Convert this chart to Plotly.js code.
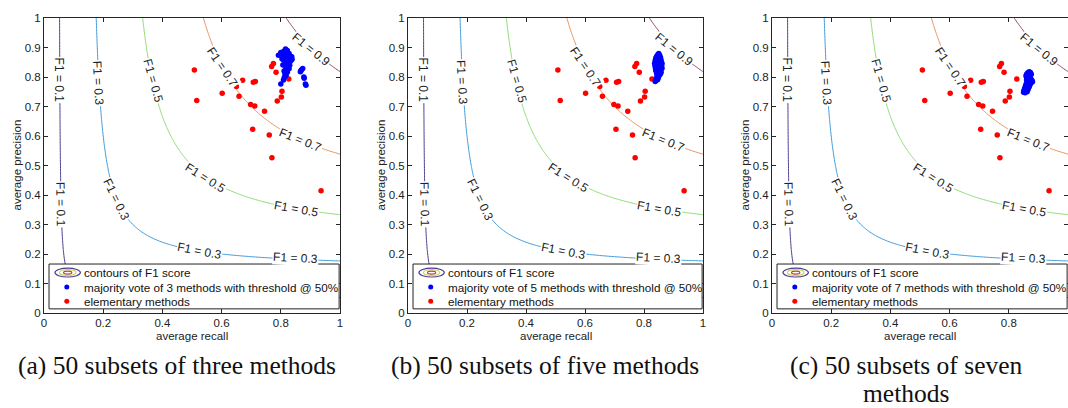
<!DOCTYPE html>
<html>
<head>
<meta charset="utf-8">
<script src="https://cdn.plot.ly/plotly-3.0.1.min.js"></script>
<style>html,body{margin:0;padding:0;background:#fff;}#chart{width:1068px;height:408px;}</style>
</head>
<body>
<div id="chart"></div>
<script>
// ---------------- data ----------------
// elementary methods (same in the three panels): average recall / average precision
const elemRecall    = [0.508,0.516,0.602,0.650,0.659,0.671,0.707,0.714,0.698,0.712,0.745,0.705,0.761,0.770,0.769,0.775,0.784,0.827,0.804,0.802,0.788,0.936];
const elemPrecision = [0.824,0.720,0.745,0.768,0.735,0.789,0.782,0.785,0.707,0.702,0.684,0.623,0.603,0.526,0.836,0.846,0.816,0.793,0.752,0.732,0.719,0.414];

// (a) majority vote of 3 methods
const vote3Recall = [0.816,0.822,0.810,0.800,0.806,0.792,0.828,0.818,0.837,0.825,0.812,0.820,0.809,0.831,0.824,0.815,0.838,0.807,0.826,0.818,0.820,0.828,0.814,0.822,0.812,0.818,0.809,0.800,0.874,0.870,0.868,0.866,0.878,0.879,0.883,0.885,0.833,0.829,0.813,0.826,0.804,0.817,0.821,0.811,0.836,0.819,0.815,0.823,0.830,0.816];
const vote3Precision = [0.895,0.890,0.887,0.883,0.879,0.874,0.880,0.876,0.869,0.868,0.866,0.862,0.858,0.852,0.856,0.848,0.860,0.841,0.835,0.838,0.824,0.828,0.812,0.816,0.799,0.805,0.790,0.776,0.829,0.825,0.821,0.818,0.800,0.796,0.776,0.772,0.870,0.848,0.872,0.860,0.862,0.830,0.844,0.820,0.858,0.870,0.882,0.874,0.840,0.858];

// (b) majority vote of 5 methods
const vote5Recall = [0.850,0.847,0.853,0.843,0.850,0.856,0.840,0.846,0.853,0.858,0.838,0.844,0.850,0.856,0.861,0.836,0.842,0.848,0.854,0.860,0.837,0.843,0.849,0.855,0.861,0.839,0.845,0.851,0.857,0.840,0.846,0.852,0.858,0.843,0.849,0.855,0.845,0.851,0.844,0.848,0.842,0.846,0.840,0.838,0.852,0.847,0.852,0.848,0.853,0.847];
const vote5Precision = [0.880,0.876,0.874,0.870,0.869,0.866,0.864,0.862,0.860,0.857,0.856,0.854,0.852,0.850,0.847,0.847,0.845,0.843,0.841,0.839,0.838,0.836,0.834,0.832,0.830,0.829,0.827,0.825,0.823,0.821,0.819,0.817,0.815,0.813,0.811,0.809,0.806,0.804,0.800,0.797,0.794,0.791,0.788,0.785,0.871,0.849,0.836,0.822,0.812,0.808];

// (c) majority vote of 7 methods
const vote7Recall = [0.869,0.873,0.864,0.870,0.876,0.860,0.866,0.872,0.858,0.864,0.870,0.861,0.867,0.873,0.878,0.860,0.865,0.871,0.880,0.876,0.862,0.868,0.874,0.859,0.865,0.871,0.857,0.863,0.869,0.855,0.861,0.866,0.853,0.859,0.864,0.851,0.857,0.862,0.850,0.855,0.866,0.862,0.874,0.868,0.872,0.866,0.860,0.858,0.853,0.877];
const vote7Precision = [0.818,0.815,0.814,0.811,0.809,0.809,0.806,0.804,0.803,0.800,0.798,0.796,0.793,0.791,0.789,0.790,0.787,0.785,0.784,0.782,0.782,0.780,0.778,0.777,0.775,0.773,0.771,0.769,0.767,0.765,0.763,0.761,0.759,0.757,0.756,0.753,0.752,0.750,0.748,0.747,0.812,0.795,0.795,0.788,0.780,0.770,0.766,0.760,0.750,0.786];

// F1 contour levels and their colours
const f1Levels = [0.1, 0.3, 0.5, 0.7, 0.9];
const f1Colors = ['#4a3d8f', '#3f9bd9', '#8fdc72', '#e8925a', '#8e4862'];

// tick labels
const xTicks = [0, 0.2, 0.4, 0.6, 0.8, 1];
const yTicks = [0, 0.1, 0.2, 0.3, 0.4, 0.5, 0.6, 0.7, 0.8, 0.9, 1];

const captionLine1 = ['(a) 50 subsets of three methods', '(b) 50 subsets of five methods', '(c) 50 subsets of seven'];
const captionLine2 = ['', '', 'methods'];
const voteLabels = ['majority vote of 3 methods with threshold @ 50%', 'majority vote of 5 methods with threshold @ 50%', 'majority vote of 7 methods with threshold @ 50%'];
const contourLegendLabel = 'contours of F1 score';
const elemLegendLabel = 'elementary methods';
const xTitle = 'average recall';
const yTitle = 'average precision';

// contour label placement (text, recall, precision, angle)
const clabelText = ['F1 = 0.1','F1 = 0.1','F1 = 0.3','F1 = 0.3','F1 = 0.3','F1 = 0.3','F1 = 0.5','F1 = 0.5','F1 = 0.5','F1 = 0.7','F1 = 0.7','F1 = 0.9'];
const clabelX     = [0.052, 0.057, 0.183, 0.246, 0.526, 0.848, 0.368, 0.545, 0.853, 0.602, 0.865, 0.905];
const clabelY     = [0.790, 0.367, 0.780, 0.384, 0.210, 0.186, 0.785, 0.458, 0.354, 0.834, 0.586, 0.893];
const clabelAng   = [90, 89, 87, 64, 11, 3, 74, 32, 10, 56, 22, 39];

// ---------------- build ----------------
const W = 1068, H = 408;
const panelX = [[44, 340], [408, 703], [772, 1068]];
const panelY = [18, 313];
const FONT = 'Liberation Sans, Arial, sans-serif';
const SERIF = 'Liberation Serif, Times New Roman, serif';

// F1 surface grid for the library's contour trace
const grid = [];
for (let i = 0; i <= 200; i++) grid.push(i / 200);
const zF1 = grid.map(p => grid.map(r => (r + p) > 0 ? 2 * r * p / (r + p) : 0));

const voteR = [vote3Recall, vote5Recall, vote7Recall];
const voteP = [vote3Precision, vote5Precision, vote7Precision];

const traces = [];
const layout = {
  width: W, height: H,
  margin: {l: 0, r: 0, t: 0, b: 0},
  paper_bgcolor: '#fff', plot_bgcolor: '#fff',
  showlegend: false,
  font: {family: FONT, color: '#222'},
  shapes: [], annotations: []
};

const cscale = f1Levels.map((v, i) => [(v - f1Levels[0]) / (f1Levels[f1Levels.length - 1] - f1Levels[0]), f1Colors[i]]);

for (let k = 0; k < 3; k++) {
  const sfx = k === 0 ? '' : String(k + 1);
  const xa = 'x' + sfx, ya = 'y' + sfx;
  const axCommon = {
    range: [0, 1], showgrid: false, zeroline: false,
    showline: true, linecolor: '#262626', linewidth: 1, mirror: 'ticks',
    ticks: 'inside', ticklen: 4, tickwidth: 1, tickcolor: '#262626',
    tickfont: {size: 11.5, family: FONT, color: '#222'}, fixedrange: true
  };
  layout['xaxis' + sfx] = Object.assign({}, axCommon, {
    domain: [panelX[k][0] / W, panelX[k][1] / W], anchor: ya, tickvals: xTicks, ticklabelstandoff: -1
  });
  layout['yaxis' + sfx] = Object.assign({}, axCommon, {
    domain: [1 - panelY[1] / H, 1 - panelY[0] / H], anchor: xa, tickvals: yTicks
  });

  traces.push({
    type: 'contour', x: grid, y: grid, z: zF1, xaxis: xa, yaxis: ya,
    autocontour: false, contours: {start: f1Levels[0], end: f1Levels[f1Levels.length - 1], size: 0.2, coloring: 'lines', showlabels: false},
    zauto: false, zmin: f1Levels[0], zmax: f1Levels[f1Levels.length - 1],
    colorscale: cscale, showscale: false, line: {width: 1, smoothing: 1}, hoverinfo: 'skip'
  });
  traces.push({
    type: 'scatter', mode: 'markers', x: elemRecall, y: elemPrecision, xaxis: xa, yaxis: ya,
    marker: {color: '#ff0000', size: 5.5}
  });
  traces.push({
    type: 'scatter', mode: 'markers', x: voteR[k], y: voteP[k], xaxis: xa, yaxis: ya,
    marker: {color: '#0000ff', size: 5.5}
  });

  // contour labels
  for (let i = 0; i < clabelText.length; i++) {
    layout.annotations.push({
      xref: xa, yref: ya, x: clabelX[i], y: clabelY[i], text: clabelText[i],
      xanchor: 'center', yanchor: 'middle',
      textangle: clabelAng[i], showarrow: false, bgcolor: '#fff', borderpad: 0,
      font: {size: 12, family: FONT, color: '#222'}
    });
  }

  // legend box
  layout.shapes.push({type: 'rect', xref: xa, yref: ya, x0: 0.017, x1: 0.997, y0: 0.014, y1: 0.166,
    fillcolor: '#fff', line: {color: '#222', width: 1}, layer: 'above'});
  // contour legend icon (nested ellipses)
  layout.shapes.push({type: 'circle', xref: xa, yref: ya, x0: 0.037, x1: 0.123, y0: 0.122, y1: 0.152,
    fillcolor: 'rgba(0,0,0,0)', line: {color: f1Colors[0], width: 1.2}, layer: 'above'});
  layout.shapes.push({type: 'circle', xref: xa, yref: ya, x0: 0.052, x1: 0.108, y0: 0.127, y1: 0.147,
    fillcolor: 'rgba(0,0,0,0)', line: {color: '#c9d86a', width: 1.2}, layer: 'above'});
  layout.shapes.push({type: 'circle', xref: xa, yref: ya, x0: 0.066, x1: 0.094, y0: 0.132, y1: 0.142,
    fillcolor: 'rgba(0,0,0,0)', line: {color: '#d2382c', width: 1.2}, layer: 'above'});
  // marker icons
  layout.shapes.push({type: 'circle', xref: xa, yref: ya, xsizemode: 'pixel', ysizemode: 'pixel',
    xanchor: 0.077, yanchor: 0.088, x0: -2.5, x1: 2.5, y0: -2.5, y1: 2.5,
    fillcolor: '#0000ff', line: {width: 0}, layer: 'above'});
  layout.shapes.push({type: 'circle', xref: xa, yref: ya, xsizemode: 'pixel', ysizemode: 'pixel',
    xanchor: 0.077, yanchor: 0.040, x0: -2.5, x1: 2.5, y0: -2.5, y1: 2.5,
    fillcolor: '#ff0000', line: {width: 0}, layer: 'above'});
  const legTexts = [contourLegendLabel, voteLabels[k], elemLegendLabel];
  const legY = [0.137, 0.088, 0.040];
  for (let j = 0; j < 3; j++) {
    layout.annotations.push({xref: xa, yref: ya, x: 0.128, y: legY[j], xanchor: 'left', yanchor: 'middle',
      text: legTexts[j], showarrow: false, font: {size: 11.7, family: FONT, color: '#111'}});
  }

  // axis titles
  const cx = (panelX[k][0] + panelX[k][1]) / 2;
  layout.annotations.push({xref: 'paper', yref: 'paper', x: (panelX[k][0] - 28) / W, y: 1 - 165.5 / H,
    xanchor: 'center', yanchor: 'middle',
    text: yTitle, textangle: -90, showarrow: false, font: {size: 11.5, family: FONT, color: '#222'}});
  layout.annotations.push({xref: 'paper', yref: 'paper', x: cx / W, y: 1 - 336 / H,
    xanchor: 'center', yanchor: 'middle',
    text: xTitle, showarrow: false, font: {size: 11.5, family: FONT, color: '#222'}});
}

// captions
const capX = [177, 545, 906];
for (let k = 0; k < 3; k++) {
  layout.annotations.push({xref: 'paper', yref: 'paper', x: capX[k] / W, y: 1 - 365 / H,
    xanchor: 'center', yanchor: 'middle', text: captionLine1[k], showarrow: false,
    borderpad: 0, borderwidth: 0,
    font: {size: 25.5, family: SERIF, color: '#111'}});
  if (captionLine2[k]) {
    layout.annotations.push({xref: 'paper', yref: 'paper', x: capX[k] / W, y: 0,
      xanchor: 'center', yanchor: 'bottom', text: captionLine2[k], showarrow: false,
      borderpad: 0, borderwidth: 0,
      font: {size: 25.5, family: SERIF, color: '#111'}});
  }
}

Plotly.newPlot('chart', traces, layout, {staticPlot: true, displayModeBar: false});
</script>
</body>
</html>
